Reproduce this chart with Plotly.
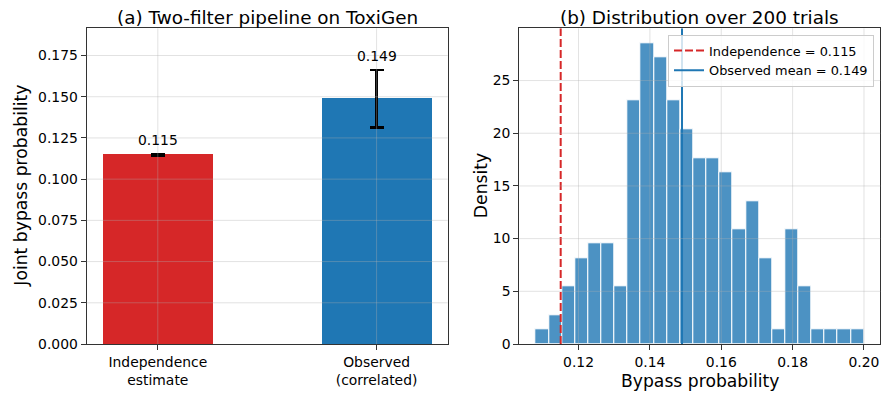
import numpy as np
import plotly.graph_objects as go

# ---------------- data ----------------
bar_labels = ["Independence<br>estimate", "Observed<br>(correlated)"]
bar_values = [0.1148, 0.1488]
bar_errors = [0.0005, 0.0174]
bar_texts = ["0.115", "0.149"]
bar_colors = ["#d62728", "#1f77b4"]

hist_edge_min = 0.108
hist_edge_max = 0.200
hist_counts = [1, 2, 4, 6, 7, 7, 4, 17, 21, 20, 17, 15, 13, 13, 12, 8, 10, 6, 1, 8, 4, 1, 1, 1, 1]
n_trials = 200
independence_value = 0.115
observed_mean = 0.149

left_yticks = [0.0, 0.025, 0.05, 0.075, 0.1, 0.125, 0.15, 0.175]
right_xticks = [0.12, 0.14, 0.16, 0.18, 0.20]
right_yticks = [0, 5, 10, 15, 20, 25]

# ---------------- derived ----------------
edges = np.linspace(hist_edge_min, hist_edge_max, len(hist_counts) + 1)
bw = edges[1] - edges[0]
centers = (edges[:-1] + edges[1:]) / 2
density = np.array(hist_counts) / (n_trials * bw)

W, H = 881, 394
def px_x(p): return p / W
def px_y(p): return 1 - p / H

L_X = [px_x(86.7), px_x(447.7)]
R_X = [px_x(519.3), px_x(880.4)]
Y_D = [px_y(344.0), px_y(28.3)]

left_yrange = [0, 0.1915]
left_xrange = [-0.325, 1.325]
right_xrange = [0.1034, 0.2046]
right_ytop = float(density.max() * 1.05)
right_yrange = [0, right_ytop]

FONT = "DejaVu Sans"
TXT = "#000000"
SPINE = "#333333"
GRID = "rgba(176,176,176,0.36)"

fig = go.Figure()

# left bars
fig.add_trace(go.Bar(
    x=[0, 1], y=bar_values, width=0.5,
    marker=dict(color=bar_colors, line=dict(width=0)),
    error_y=dict(type="data", array=bar_errors, visible=True, color="black",
                 thickness=2.3, width=7),
    xaxis="x", yaxis="y", showlegend=False, hoverinfo="skip",
))

# histogram
fig.add_trace(go.Bar(
    x=centers, y=density, width=bw,
    marker=dict(color="rgba(31,119,180,0.8)", line=dict(color="white", width=1)),
    xaxis="x2", yaxis="y2", showlegend=False, hoverinfo="skip",
))

fig.add_trace(go.Scatter(
    x=[independence_value, independence_value], y=right_yrange, mode="lines",
    line=dict(color="#d62728", width=2, dash="8px,3px"),
    name=f"Independence = {independence_value:.3f}",
    xaxis="x2", yaxis="y2",
))
fig.add_trace(go.Scatter(
    x=[observed_mean, observed_mean], y=right_yrange, mode="lines",
    line=dict(color="#1f77b4", width=2),
    name=f"Observed mean = {observed_mean:.3f}",
    xaxis="x2", yaxis="y2",
))

axis_common = dict(
    showline=True, linecolor=SPINE, linewidth=1.1, mirror=True,
    ticks="outside", ticklen=5, tickwidth=1.1, tickcolor=SPINE,
    showgrid=False, zeroline=False, automargin=False,
    tickfont=dict(family=FONT, size=13.9, color=TXT),
)

fig.update_layout(
    template="none",
    width=W, height=H,
    margin=dict(l=0, r=0, t=0, b=0, pad=0),
    paper_bgcolor="white", plot_bgcolor="white",
    font=dict(family=FONT, color=TXT),
    bargap=0,
    xaxis=dict(domain=L_X, range=left_xrange, tickvals=[0, 1], ticktext=bar_labels,
               anchor="y", **axis_common),
    yaxis=dict(domain=Y_D, range=left_yrange, tickvals=left_yticks,
               ticktext=[f"{v:.3f}" for v in left_yticks], anchor="x", **axis_common),
    xaxis2=dict(domain=R_X, range=right_xrange, tickvals=right_xticks,
                ticktext=[f"{v:.2f}" for v in right_xticks], anchor="y2", **axis_common),
    yaxis2=dict(domain=Y_D, range=right_yrange, tickvals=right_yticks,
                ticktext=[str(v) for v in right_yticks], anchor="x2", **axis_common),
    legend=dict(
        x=px_x(874), y=px_y(34.7), xanchor="right", yanchor="top",
        bgcolor="rgba(255,255,255,0.8)", bordercolor="#cccccc", borderwidth=1,
        font=dict(family=FONT, size=12.9, color=TXT),
        tracegroupgap=0, itemwidth=30,
    ),
)

# gridlines above traces (matplotlib-like)
shapes = []
for v in left_yticks[1:]:
    shapes.append(dict(type="line", xref="x domain", yref="y", x0=0, x1=1, y0=v, y1=v,
                       line=dict(color=GRID, width=1), layer="above"))
for v in [0, 1]:
    shapes.append(dict(type="line", xref="x", yref="y domain", x0=v, x1=v, y0=0, y1=1,
                       line=dict(color=GRID, width=1), layer="above"))
for v in right_yticks[1:]:
    shapes.append(dict(type="line", xref="x2 domain", yref="y2", x0=0, x1=1, y0=v, y1=v,
                       line=dict(color=GRID, width=1), layer="above"))
for v in right_xticks:
    shapes.append(dict(type="line", xref="x2", yref="y2 domain", x0=v, x1=v, y0=0, y1=1,
                       line=dict(color=GRID, width=1), layer="above"))
fig.update_layout(shapes=shapes)

ann = []
# bar value labels
for i, (v, e, t) in enumerate(zip(bar_values, bar_errors, bar_texts)):
    ann.append(dict(x=i, y=v + e, xref="x", yref="y", text=t, showarrow=False,
                    xanchor="center", yanchor="bottom", yshift=4,
                    font=dict(family=FONT, size=13.9, color=TXT)))
# titles
ann.append(dict(x=(L_X[0] + L_X[1]) / 2, y=px_y(17.5), xref="paper", yref="paper",
                text="(a) Two-filter pipeline on ToxiGen", showarrow=False,
                xanchor="center", yanchor="middle",
                font=dict(family=FONT, size=18.4, color=TXT)))
ann.append(dict(x=(R_X[0] + R_X[1]) / 2, y=px_y(17.5), xref="paper", yref="paper",
                text="(b) Distribution over 200 trials", showarrow=False,
                xanchor="center", yanchor="middle",
                font=dict(family=FONT, size=18.4, color=TXT)))
# axis titles
ann.append(dict(x=px_x(21.5), y=(Y_D[0] + Y_D[1]) / 2, xref="paper", yref="paper",
                text="Joint bypass probability", showarrow=False, textangle=-90,
                xanchor="center", yanchor="middle",
                font=dict(family=FONT, size=17.2, color=TXT)))
ann.append(dict(x=px_x(481), y=(Y_D[0] + Y_D[1]) / 2, xref="paper", yref="paper",
                text="Density", showarrow=False, textangle=-90,
                xanchor="center", yanchor="middle",
                font=dict(family=FONT, size=17.2, color=TXT)))
ann.append(dict(x=(R_X[0] + R_X[1]) / 2, y=px_y(381), xref="paper", yref="paper",
                text="Bypass probability", showarrow=False,
                xanchor="center", yanchor="middle",
                font=dict(family=FONT, size=17.2, color=TXT)))
fig.update_layout(annotations=ann)

fig.write_html("out.html")
